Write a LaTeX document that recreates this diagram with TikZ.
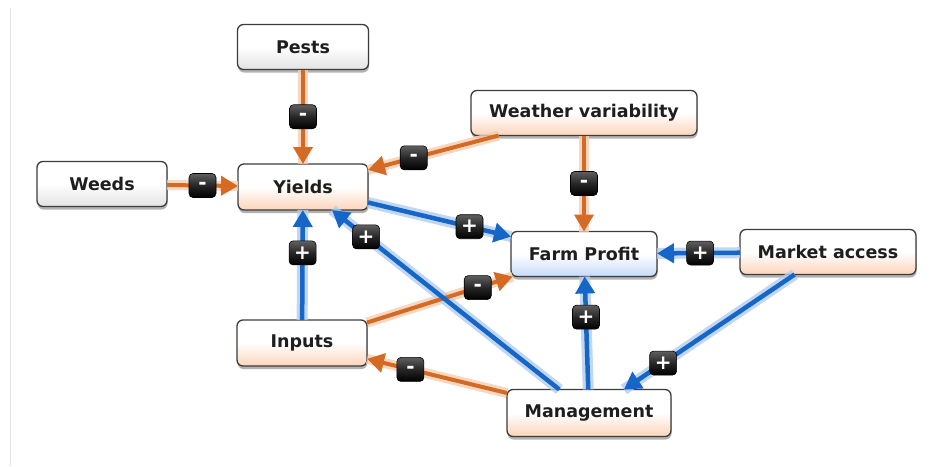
\documentclass[tikz,border=0pt]{standalone}
\usepackage{fontspec}
\setmainfont{DejaVu Sans}
\usetikzlibrary{arrows.meta,shadows}
\definecolor{nodeborder}{RGB}{60,60,60}
\definecolor{textdark}{RGB}{30,30,30}
\definecolor{peachc}{RGB}{252,212,186}
\definecolor{grayc}{RGB}{226,226,226}
\definecolor{bluebg}{RGB}{196,218,250}
\definecolor{orangec}{RGB}{212,106,36}
\definecolor{orangehaloc}{RGB}{245,205,175}
\definecolor{bluec}{RGB}{22,102,200}
\definecolor{bluehaloc}{RGB}{178,206,238}
\definecolor{badgetop}{RGB}{95,95,95}
\definecolor{framec}{RGB}{228,228,240}
\tikzset{
  box/.style={draw=nodeborder, line width=1.3pt, rounded corners=6pt,
    minimum height=45pt, inner sep=0pt, outer sep=0pt,
    font=\fontsize{17.5}{20}\selectfont\bfseries, text=textdark,
    drop shadow={shadow xshift=0.5pt, shadow yshift=-3pt, opacity=0.3, fill=black}},
  peachbox/.style={box, top color=white, bottom color=peachc, middle color=white},
  graybox/.style={box, top color=white, bottom color=grayc, middle color=white},
  bluebox/.style={box, top color=white, bottom color=bluebg, middle color=white},
  ohalo/.style={draw=orangehaloc, line width=10pt, opacity=0.8},
  bhalo/.style={draw=bluehaloc, line width=11pt, opacity=0.8},
  oline/.style={draw=orangec, line width=4pt, -{Triangle[length=17pt,width=19pt]}},
  bline/.style={draw=bluec, line width=4.5pt, -{Triangle[length=17pt,width=19pt]}},
  badge/.style={rounded corners=4pt, minimum width=27pt, minimum height=24pt,
    top color=badgetop, bottom color=black, middle color=black!85,
    draw=black, line width=0.6pt, text=white, inner sep=0pt,
    font=\fontsize{20}{20}\selectfont\bfseries},
}
\begin{document}
\begin{tikzpicture}[x=1pt,y=-1pt]
\useasboundingbox (0,0) rectangle (948,466);
\fill[white] (0,0) rectangle (948,466);
\draw[framec, line width=0.8pt] (10,8) -- (10,466);
% nodes
\node[graybox, minimum width=131pt] (pests) at (303,47) {Pests};
\node[peachbox, minimum width=226pt] (weather) at (584,113) {Weather variability};
\node[graybox, minimum width=130pt] (weeds) at (102,184) {Weeds};
\node[peachbox, minimum width=130pt, minimum height=46pt] (yields) at (303,187) {Yields};
\node[bluebox, minimum width=146pt] (profit) at (584,254) {Farm Profit};
\node[peachbox, minimum width=176pt] (market) at (828,252) {Market access};
\node[peachbox, minimum width=130pt, minimum height=46pt] (inputs) at (302,343) {Inputs};
\node[peachbox, minimum width=164pt, minimum height=47pt] (mgmt) at (589,413) {Management};
% halos
\draw[ohalo] (pests) -- (yields);
\draw[ohalo] (weather) -- (yields);
\draw[ohalo] (weeds) -- (yields);
\draw[ohalo] (weather) -- (profit);
\draw[ohalo] (inputs) -- (profit);
\draw[ohalo] (mgmt) -- (inputs);
\draw[bhalo] (yields) -- (profit);
\draw[bhalo] (market) -- (profit);
\draw[bhalo] (inputs) -- (yields);
\draw[bhalo] (mgmt) -- (yields);
\draw[bhalo] (mgmt) -- (profit);
\draw[bhalo] (market) -- (mgmt);
% lines with badges
\draw[oline] (pests) -- (yields) node[badge, pos=0.5] (s1) {-};
\draw[oline] (weather) -- (yields) node[badge, pos=0.65] (s2) {-};
\draw[oline] (weeds) -- (yields) node[badge, pos=0.5] (s3) {-};
\draw[oline] (weather) -- (profit) node[badge, pos=0.5] (s4) {-};
\draw[oline] (inputs) -- (profit) node[badge, pos=0.76] (s5) {-};
\draw[oline] (mgmt) -- (inputs) node[badge, pos=0.69] (s6) {-};
\draw[bline] (yields) -- (profit) node[badge, pos=0.71] (s7) {+};
\draw[bline] (market) -- (profit) node[badge, pos=0.48] (s8) {+};
\draw[bline] (inputs) -- (yields) node[badge, pos=0.61] (s9) {+};
\draw[bline] (mgmt) -- (yields) node[badge, pos=0.85] (s10) {+};
\draw[bline] (mgmt) -- (profit) node[badge, pos=0.64] (s11) {+};
\draw[bline] (market) -- (mgmt) node[badge, pos=0.77] (s12) {+};
\end{tikzpicture}
\end{document}
